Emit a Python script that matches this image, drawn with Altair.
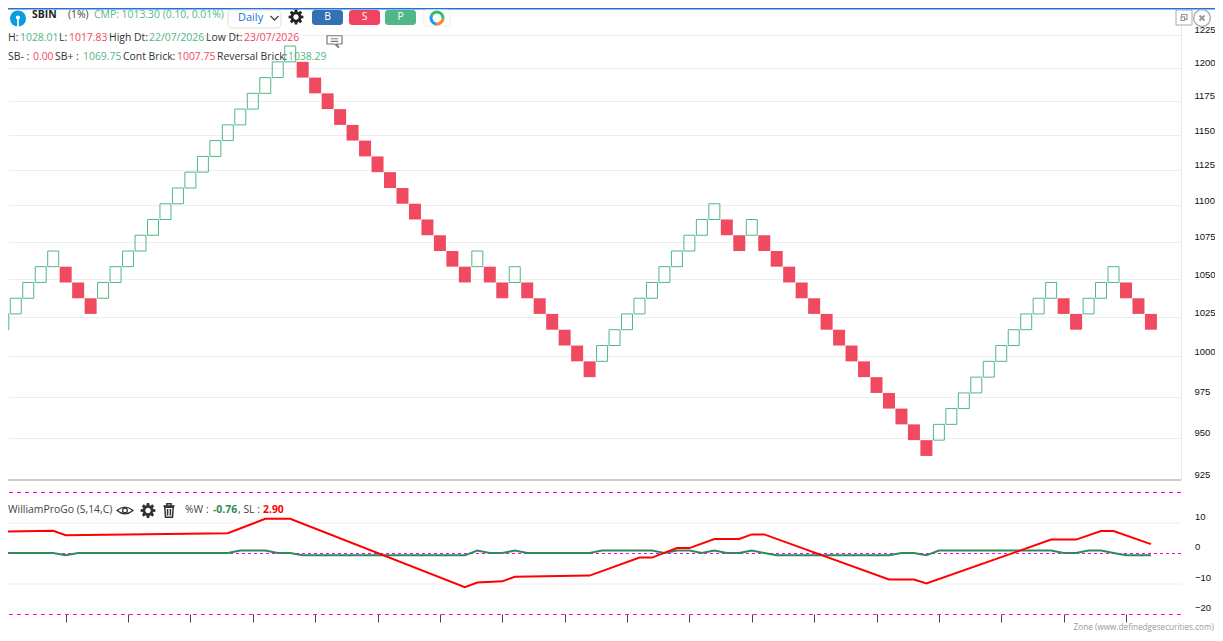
import math
import altair as alt
import pandas as pd

brick_low = [1017.0,1027.2,1037.4,1047.8,1058.3,1047.8,1037.4,1027.2,1037.4,1047.8,
             1058.3,1068.8,1079.5,1090.3,1101.2,1112.2,1123.4,1134.6,1146.0,1157.4,
             1169.0,1180.7,1192.5,1204.4,1192.5,1180.7,1169.0,1157.4,1146.0,1134.6,
             1123.4,1112.2,1101.2,1090.3,1079.5,1068.8,1058.3,1047.8,1058.3,1047.8,
             1037.4,1047.8,1037.4,1027.2,1017.0,1006.9,996.9,987.0,996.9,1006.9,
             1017.0,1027.2,1037.4,1047.8,1058.3,1068.8,1079.5,1090.3,1079.5,1068.8,
             1079.5,1068.8,1058.3,1047.8,1037.4,1027.2,1017.0,1006.9,996.9,987.0,
             977.2,967.6,958.0,948.5,939.1,948.5,958.0,967.6,977.2,987.0,
             996.9,1006.9,1017.0,1027.2,1037.4,1027.2,1017.0,1027.2,1037.4,1047.8,
             1037.4,1027.2,1017.0]
brick_high = [1027.2,1037.4,1047.8,1058.3,1068.8,1058.3,1047.8,1037.4,1047.8,1058.3,
              1068.8,1079.5,1090.3,1101.2,1112.2,1123.4,1134.6,1146.0,1157.4,1169.0,
              1180.7,1192.5,1204.4,1216.5,1204.4,1192.5,1180.7,1169.0,1157.4,1146.0,
              1134.6,1123.4,1112.2,1101.2,1090.3,1079.5,1068.8,1058.3,1068.8,1058.3,
              1047.8,1058.3,1047.8,1037.4,1027.2,1017.0,1006.9,996.9,1006.9,1017.0,
              1027.2,1037.4,1047.8,1058.3,1068.8,1079.5,1090.3,1101.2,1090.3,1079.5,
              1090.3,1079.5,1068.8,1058.3,1047.8,1037.4,1027.2,1017.0,1006.9,996.9,
              987.0,977.2,967.6,958.0,948.5,958.0,967.6,977.2,987.0,996.9,
              1006.9,1017.0,1027.2,1037.4,1047.8,1037.4,1027.2,1037.4,1047.8,1058.3,
              1047.8,1037.4,1027.2]
brick_dir = list("UUUUUDDDUUUUUUUUUUUUUUUUDDDDDDDDDDDDDDUDDUDDDDDDUUUUUUUUUUDDUDDDDDDDDDDDDDDUUUUUUUUUUDDUUUDDD")[:93]

sl_idx = [0,4,5,18,21,23,37,38,40,41,47,51,52,54,55,57,59,60,61,71,73,74,84,86,88,89,92]
sl_val = [7.0,7.3,5.8,6.5,11.2,11.2,-11.2,-9.7,-9.3,-7.8,-7.4,-1.5,-1.5,1.6,1.6,4.6,4.6,6.1,6.1,-8.7,-8.7,-10.0,4.4,4.4,7.2,7.2,2.9]
w_idx = [0,4,5,6,18,19,21,22,23,24,37,38,39,40,41,42,47,48,52,53,54,55,56,57,58,59,60,61,62,71,72,73,74,75,84,85,86,87,88,89,90,92]
w_val = [0,0,-0.76,0,0,0.8,0.8,0,0,-0.76,-0.76,0.8,0,0,0.8,0,0,0.8,0.8,0,0.8,0.8,0,0.8,0,0,0.8,0,-0.76,-0.76,0,0,-0.76,0.8,0.8,0,0,0.8,0.8,0,-0.76,-0.76]
price_ticks = [1225,1200,1175,1150,1125,1100,1075,1050,1025,1000,975,950,925]
w_ticks = [10,0,-10,-20]
x_ticks = list(range(5,95,5))

GREEN = "#52b788"; RED = "#ef4a60"; DARK = "#333333"; UI = "Open Sans"; FS = 10.4
OX, OY = 8, 8   # the page margin: every pixel position below is given in page coordinates
one = pd.DataFrame({"a":[0]})
xs = alt.Scale(domain=[0.3768, 94.41], nice=False, zero=False, padding=0)
lx = alt.X("i:Q", scale=xs, axis=alt.Axis(values=x_ticks, labels=False, domain=False, grid=False, tickColor="#444444", tickSize=8, tickWidth=1, title=None))

def txt(s, x, y, color=DARK, size=FS, weight="normal", font=UI, align="left"):
    return alt.Chart(one).mark_text(align=align, baseline="middle", fontSize=size, fontWeight=weight, font=font, color=color).encode(
        x=alt.value(x-OX), y=alt.value(y-OY), text=alt.value(s))
def box(x1, y1, x2, y2, fill, stroke=None, r=3):
    kw = dict(fill=fill, cornerRadius=r)
    if stroke: kw.update(stroke=stroke, strokeWidth=1)
    return alt.Chart(one).mark_rect(**kw).encode(x=alt.value(x1-OX), x2=alt.value(x2-OX), y=alt.value(y1-OY), y2=alt.value(y2-OY))
def icon(path, x, y, px, color, sw=1.4, filled=False):
    kw = dict(shape=path, size=px*px, opacity=1, filled=filled)
    if filled: kw.update(fill=color, strokeWidth=0)
    else: kw.update(stroke=color, strokeWidth=sw)
    return alt.Chart(one).mark_point(**kw).encode(x=alt.value(x-OX), y=alt.value(y-OY))
def arc(x, y, t1, t2, color, r1=4.5, r2=7.5):
    return alt.Chart(one).mark_arc(theta=t1, theta2=t2, innerRadius=r1, outerRadius=r2, color=color).encode(x=alt.value(x-OX), y=alt.value(y-OY))
def hline(x1, x2, y, color, sw):
    return alt.Chart(one).mark_rule(color=color, strokeWidth=sw).encode(x=alt.value(x1-OX), x2=alt.value(x2-OX), y=alt.value(y-OY))
def vline(x, y1, y2, color, sw):
    return alt.Chart(one).mark_rule(color=color, strokeWidth=sw).encode(x=alt.value(x-OX), y=alt.value(y1-OY), y2=alt.value(y2-OY))
def dot(x, y, size, fill, stroke=None, sw=1):
    kw = dict(size=size, fill=fill, opacity=1)
    if stroke: kw.update(stroke=stroke, strokeWidth=sw)
    return alt.Chart(one).mark_circle(**kw).encode(x=alt.value(x-OX), y=alt.value(y-OY))

def gear_path():
    pts = []
    for k in range(8):
        a = k*math.pi/4
        for da, r in ((-0.30,0.72),(-0.17,1.0),(0.17,1.0),(0.30,0.72)):
            pts.append((r*math.cos(a+da), r*math.sin(a+da)))
    d = "M" + " L".join(f"{x:.3f},{y:.3f}" for x,y in pts) + " Z"
    return d + " M.36,0 A.36,.36 0 1 0 -.36,0 A.36,.36 0 1 0 .36,0 Z"
GEAR = gear_path()

# price panel: log scale
yp = alt.Y("low:Q", scale=alt.Scale(type="log", domain=[849.9,1246.06], nice=False),
           axis=alt.Axis(orient="right", values=price_ticks, grid=True, gridColor="#eeeeee", gridWidth=1, domain=False, ticks=False,
                         labelPadding=13, labelOffset=-5, labelFontSize=9.5, labelFont="Liberation Sans", labelColor="#111111", title=None,
                         labelFlush=False, labelOverlap=False, format="d"))
yp2 = alt.Y("low:Q", scale=alt.Scale(type="log", domain=[849.9,1246.06], nice=False), axis=None)
df = pd.DataFrame({"i":range(93),"low":brick_low,"high":brick_high,"d":brick_dir})
red_b = alt.Chart(df).transform_filter("datum.d=='D'").mark_bar(size=12, color=RED, clip=True).encode(x=lx, y=yp, y2="high:Q")
grn_b = alt.Chart(df).transform_filter("datum.d=='U'").mark_bar(size=11, fill="transparent", stroke=GREEN, strokeWidth=1, clip=True).encode(x=lx, y=yp2, y2="high:Q")

# indicator panel
ly = alt.Y("v:Q", scale=alt.Scale(domain=[-20.0,178.69], nice=False, zero=False), axis=None)
sl_df = pd.DataFrame({"i":sl_idx,"v":sl_val})
w_df = pd.DataFrame({"i":w_idx,"v":w_val})
grid = alt.Chart(pd.DataFrame({"v":[10,-10]})).mark_rule(color="#eeeeee", strokeWidth=1, yOffset=0.5).encode(y=ly)
mag = alt.Chart(pd.DataFrame({"v":[20,-20]})).mark_rule(color="#ff00ff", strokeWidth=1, strokeDash=[4,4], yOffset=0.5).encode(y=ly)
zero = alt.Chart(pd.DataFrame({"v":[0]})).mark_rule(color="#ff00ff", strokeWidth=1, strokeDash=[3,3], yOffset=0.5).encode(y=ly)
wline = alt.Chart(w_df).mark_line(color="#2e8b57", strokeWidth=2, clip=True).encode(x=lx, y=ly)
sline = alt.Chart(sl_df).mark_line(color="#ff0000", strokeWidth=2, clip=True).encode(x=lx, y=ly)
wlab = alt.Chart(pd.DataFrame({"v":w_ticks})).mark_text(align="left", baseline="middle", dy=-6, fontSize=9.5, font="Liberation Sans", color="#111111").encode(
    x=alt.value(1195-OX), y=ly, text="v:Q")

ui = [
    hline(8, 1215, 8.7, "#2272d8", 1.4),
    vline(1181.5, 9, 480, "#e8e8e8", 1),
    hline(8, 1181, 480, "#cccccc", 2),
    dot(18, 18.5, 260, "#0a9be0"),
    dot(18, 17.5, 18, "white"),
    vline(18, 18, 27, "white", 1.6),
    txt("SBIN", 32, 14.5, "#222222", FS, "bold"),
    txt("(1%)", 68, 14.5, "#444444"),
    txt("CMP: 1013.30 (0.10, 0.01%)", 94, 14.5, GREEN),
    box(228, 10, 281, 28, "white", "#dddddd", 4),
    txt("Daily", 238, 18, "#2272d8", 11),
    icon("M-1,-.5 L0,.5 L1,-.5", 274.5, 18, 8, "#444444", 1.3),
    icon(GEAR, 296, 17, 15, "#222222", filled=True),
    box(312, 10, 343, 25, "#3570b5"), txt("B", 327.5, 17, "white", FS, align="center"),
    box(349, 10, 380, 25, "#f0435f"), txt("S", 364.5, 17, "white", FS, align="center"),
    box(385, 10, 416, 25, GREEN), txt("P", 400.5, 17, "white", FS, align="center"),
    box(423, 10, 450, 26, "white", "#eeeeee", 3),
    arc(437, 18, 5.2, 6.28, "#2fbf71"), arc(437, 18, 0, 1.7, "#2fbf71"), arc(437, 18, 1.7, 3.3, "#f08a24"),
    arc(437, 18, 3.3, 5.2, "#2196f3"),
    txt("H:", 8, 38), txt("1028.01", 20, 38, GREEN), txt("L:", 59, 38), txt("1017.83", 69, 38, RED),
    txt("High Dt:", 109, 38), txt("22/07/2026", 149, 38, GREEN), txt("Low Dt:", 206, 38), txt("23/07/2026", 244, 38, RED),
    txt("SB- :", 8, 57), txt("0.00", 33, 57, RED), txt("SB+ :", 55, 57), txt("1069.75", 83, 57, GREEN),
    txt("Cont Brick:", 123, 57), txt("1007.75", 177, 57, RED), txt("Reversal Brick:", 217, 57), txt("1038.29", 288, 57, GREEN),
    icon("M-1,-.7 H1 V.4 H.3 L.6,.9 L0,.4 H-1 Z M-.5,-.3 H.5 M-.5,.05 H.5", 334.5, 41, 15, "#777777", 1.2),
    box(1176, 10, 1192, 25, "white", "#aaaaaa", 0),
    icon("M-.4,-.1 V-.5 H.5 V.3 H.1 M-.5,-.1 H.1 V.5 H-.5 Z", 1184, 17.5, 12, "#999999", 1.2),
    dot(1202, 18, 280, "white", "#aaaaaa", 1.4),
    icon("M-.5,-.5 L.5,.5 M.5,-.5 L-.5,.5", 1202, 18, 10, "#999999", 2),
    txt("WilliamProGo (S,14,C)", 8, 510, "#444444"),
    icon("M-1,0 Q0,-.85 1,0 Q0,.85 -1,0 Z", 125, 510.5, 16, "#333333", 1.3),
    dot(125, 510.5, 22, "white", "#333333", 1.3),
    icon(GEAR, 148, 510.5, 15, "#333333", filled=True),
    icon("M-.8,-.65 H.8 M-.3,-.65 V-.95 H.3 V-.65 M-.6,-.45 L-.5,.95 H.5 L.6,-.45 Z M-.2,-.2 V.7 M.2,-.2 V.7", 169, 510.5, 14, "#333333", 1.5),
    txt("%W :", 185, 510, "#444444"), txt("-0.76", 213, 510, "#2e8b57", FS, "bold"),
    txt(", SL :", 238, 510, "#444444"), txt("2.90", 263, 510, "#ff0000", FS, "bold"),
    txt("Zone (www.definedgesecurities.com)", 1214, 628, "#999999", 8.2, align="right"),
]

chart = alt.layer(grid, mag, zero, red_b, grn_b, wline, sline, wlab, *ui).resolve_scale(y="independent").properties(
    width=1173, height=606, padding={"left":0,"top":0,"right":34,"bottom":27},
    autosize=alt.AutoSizeParams(type="none"), background="white"
).configure_view(stroke=None)
chart.save("out.html", embed_options={"renderer": "svg", "actions": False})
